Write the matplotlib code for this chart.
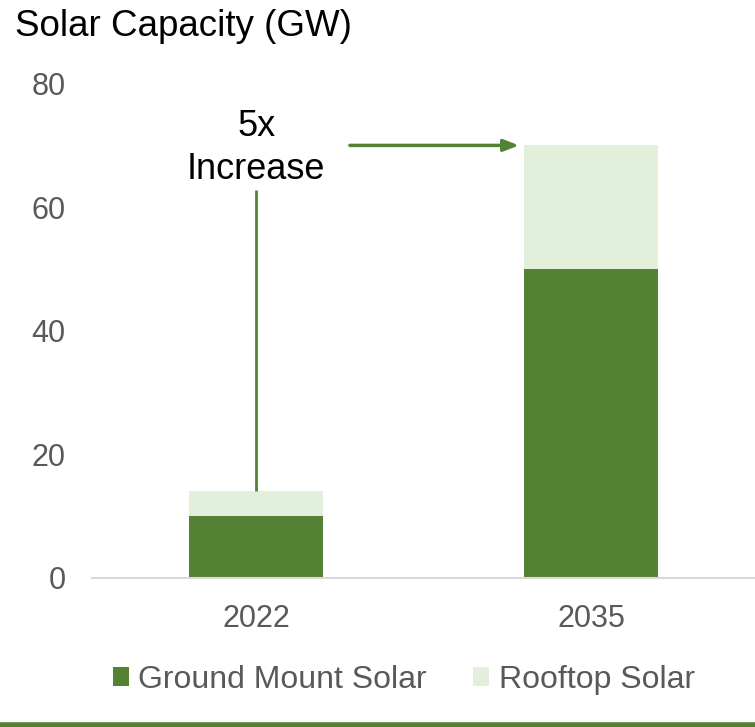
import matplotlib
matplotlib.use("Agg")
import matplotlib.pyplot as plt
from matplotlib.lines import Line2D
from matplotlib.patches import Patch

plt.rcParams['font.family'] = ['Liberation Sans', 'DejaVu Sans']

categories = ["2022", "2035"]
ground_mount = [10, 50]
rooftop = [4, 20]
series_names = ["Ground Mount Solar", "Rooftop Solar"]
y_ticks = [0, 20, 40, 60, 80]

DARK = "#548235"
LIGHT = "#E2EFDA"
GRAY_TXT = "#595959"

fig = plt.figure(figsize=(7.55, 7.27), dpi=100)
ax = fig.add_axes([0.122, 0.205, 0.878, 0.680])

x = list(range(len(categories)))
ax.bar(x, ground_mount, width=0.4, color=DARK, label=series_names[0])
ax.bar(x, rooftop, width=0.4, bottom=ground_mount, color=LIGHT, label=series_names[1])

ax.set_xlim(-0.49, 1.49)
ax.set_ylim(0, 80)
ax.set_yticks(y_ticks)
ax.set_xticks(x)
ax.set_xticklabels(categories)
ax.tick_params(axis='both', length=0, labelsize=22, colors=GRAY_TXT)
ax.tick_params(axis='y', pad=19)
ax.tick_params(axis='x', pad=19)
for s in ["top", "right", "left"]:
    ax.spines[s].set_visible(False)
ax.spines["bottom"].set_color("#D9D9D9")
ax.spines["bottom"].set_linewidth(1.5)

# annotation
totals = [g + r for g, r in zip(ground_mount, rooftop)]
ax.plot([0, 0], [totals[0], 62.8], color=DARK, lw=2, solid_capstyle='butt')
ax.annotate("", xy=(1 - 0.215, totals[1]), xytext=(0.28, totals[1]),
            arrowprops=dict(arrowstyle="-|>,head_length=0.9,head_width=0.35",
                            color=DARK, lw=2.5, shrinkA=0, shrinkB=0))
ax.text(0, 69.6, "5x\nIncrease", ha="center", va="center", fontsize=26,
        color="black", linespacing=1.3)

fig.text(0.02, 0.964, "Solar Capacity (GW)", fontsize=26.5, color="black",
         ha="left", va="center")

handles = [Patch(facecolor=DARK, edgecolor='none'), Patch(facecolor=LIGHT, edgecolor='none')]
leg = fig.legend(handles, series_names, loc="center", bbox_to_anchor=(0.535, 0.065),
                 ncol=2, frameon=False, fontsize=23, handlelength=0.5, handleheight=0.5,
                 handletextpad=0.3, columnspacing=1.45)
for t in leg.get_texts():
    t.set_color(GRAY_TXT)

fig.add_artist(Line2D([0, 1], [0.003, 0.003], transform=fig.transFigure, color=DARK, lw=4))

fig.savefig("out.png", dpi=100)
